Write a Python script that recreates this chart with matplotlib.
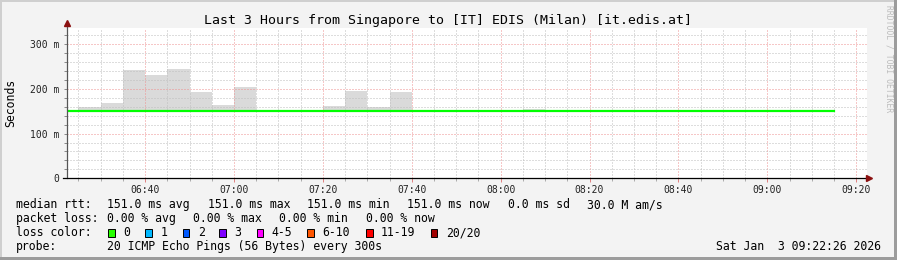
import datetime as dt
import matplotlib
matplotlib.use("Agg")
import matplotlib.pyplot as plt
import matplotlib.dates as mdates
from matplotlib.ticker import MultipleLocator, FuncFormatter
from matplotlib.lines import Line2D
from matplotlib.patches import Rectangle

# --- data (ms), 5 minute bins ---
bin_start = [dt.datetime(2026, 1, 3, 6, 20) + dt.timedelta(minutes=5 * i) for i in range(35)]
median_ms = [151.0] * 35
smoke_top = [151, 160, 168.5, 242.5, 231, 244.5, 193, 163.5, 204.5, 151, 151, 151,
             162, 196, 159.5, 194, 151, 151, 151, 151, 151, 155.5,
             151, 151, 151, 151, 151, 151, 151, 151, 151, 151, 151, 151, 151]
smoke_bottom = 150.0

title = "Last 3 Hours from Singapore to [IT] EDIS (Milan) [it.edis.at]"
rtt_items = ["151.0 ms avg", "151.0 ms max", "151.0 ms min", "151.0 ms now", "0.0 ms sd", "30.0 M am/s"]
loss_items = ["0.00 % avg", "0.00 % max", "0.00 % min", "0.00 % now"]
loss_labels = ["0", "1", "2", "3", "4-5", "6-10", "11-19", "20/20"]
loss_colors = ["#26ff00", "#00b8ff", "#0059ff", "#7e00ff", "#ff00ff", "#ff5500", "#ff0000", "#a10000"]
probe_text = "20 ICMP Echo Pings (56 Bytes) every 300s"
stamp = "Sat Jan  3 09:22:26 2026"

t_end = dt.datetime(2026, 1, 3, 9, 22, 26)
t_start = t_end - dt.timedelta(hours=3)

W, H = 897, 260
plt.rcParams["font.family"] = ["DejaVu Sans Mono"]
fig = plt.figure(figsize=(W / 100, H / 100), dpi=100, facecolor="#f3f3f3")


def px(x, y):
    return x / W, 1 - y / H


L, R, T, B = 67, 867, 27.7, 178.3
ax = fig.add_axes([L / W, 1 - B / H, (R - L) / W, (B - T) / H], facecolor="white")

# smoke
ax.bar(bin_start, [t - smoke_bottom for t in smoke_top], bottom=smoke_bottom,
       width=dt.timedelta(minutes=5), align="edge", color="#dadada", linewidth=0, zorder=1)
# median line
ax.step(bin_start + [bin_start[-1] + dt.timedelta(minutes=5)], median_ms + [median_ms[-1]],
        where="post", color="#00ff00", linewidth=1.6, zorder=4)

ax.set_xlim(t_start, t_end)
ax.set_ylim(0, 337)

ax.xaxis.set_major_locator(mdates.MinuteLocator(byminute=[0, 20, 40]))
ax.xaxis.set_minor_locator(mdates.MinuteLocator(byminute=range(0, 60, 5)))
ax.xaxis.set_major_formatter(mdates.DateFormatter("%H:%M"))
ax.yaxis.set_major_locator(MultipleLocator(100))
ax.yaxis.set_minor_locator(MultipleLocator(20))
ax.yaxis.set_major_formatter(FuncFormatter(lambda v, p: "0" if v == 0 else f"{int(v)} m"))

ax.set_axisbelow(False)
ax.grid(which="minor", color="#bdbdbd", linestyle=(0, (1, 2)), linewidth=0.72, zorder=2)
ax.grid(which="major", color="#ee9090", linestyle=(0, (1, 2)), linewidth=0.72, zorder=3)

for s in ax.spines.values():
    s.set_visible(False)
ax.tick_params(which="both", labelsize=7, colors="#222222", pad=3)
ax.tick_params(axis="x", which="major", length=3, color="#e08080", width=0.7, pad=1.5)
ax.tick_params(axis="x", which="minor", length=2, color="#aaaaaa", width=0.7)
ax.tick_params(axis="y", which="both", length=2.5, color="#888888", width=0.7)

# axis lines and arrows
fig.add_artist(Line2D([px(L, 0)[0]] * 2, [px(0, B)[1], px(0, 22)[1]], color="#555555", lw=0.9))
fig.add_artist(Line2D([px(63, 0)[0], px(868, 0)[0]], [px(0, B)[1]] * 2, color="black", lw=0.9))
fig.add_artist(Line2D([px(L, 0)[0]], [px(0, 23)[1]], marker="^", markersize=4.5, color="#8b1010", lw=0))
fig.add_artist(Line2D([px(869, 0)[0]], [px(0, B)[1]], marker=">", markersize=4.5, color="#8b1010", lw=0))

# title, y label, watermark
fig.text(*px(448, 24), title, ha="center", va="baseline", fontsize=9.5, color="black")
fig.text(*px(11, 103), "Seconds", rotation=90, ha="center", va="center", fontsize=8.3)
fig.text(*px(888.5, 5), "RRDTOOL / TOBI OETIKER", rotation=270, ha="center", va="top",
         fontsize=5.8, color="#bcbcbc")

# legend rows
fs = 8.3
rows = [208, 222, 236, 250]
fig.text(*px(16, rows[0]), "median rtt:", va="baseline", fontsize=fs)
for x, s in zip([107.3, 208, 307.3, 406.7, 508.3, 586.7], rtt_items):
    fig.text(*px(x, rows[0]), s, va="baseline", fontsize=fs)

fig.text(*px(16, rows[1]), "packet loss:", va="baseline", fontsize=fs)
for x, s in zip([107.3, 193.3, 279.3, 365.7], loss_items):
    fig.text(*px(x, rows[1]), s, va="baseline", fontsize=fs)

fig.text(*px(16, rows[2]), "loss color:", va="baseline", fontsize=fs)
box_x = [108.3, 145.3, 182.7, 219.3, 256.7, 307.3, 366, 430.7]
for x, lab, c in zip(box_x, loss_labels, loss_colors):
    fig.add_artist(Rectangle(px(x, 236.7), 6.7 / W, 7.4 / H, transform=fig.transFigure,
                             facecolor=c, edgecolor="black", linewidth=0.7))
    fig.text(*px(x + 15, rows[2]), lab, va="baseline", fontsize=fs)

fig.text(*px(16, rows[3]), "probe:", va="baseline", fontsize=fs)
fig.text(*px(107.3, rows[3]), probe_text, va="baseline", fontsize=fs)
fig.text(*px(880.5, rows[3]), stamp, ha="right", va="baseline", fontsize=fs)

# frame
fig.add_artist(Rectangle((0, 0), 2 / W, 1, transform=fig.transFigure, color="#cfcfcf", lw=0))
fig.add_artist(Rectangle((0, 1 - 2 / H), 1, 2 / H, transform=fig.transFigure, color="#cfcfcf", lw=0))
fig.add_artist(Rectangle((1 - 3 / W, 0), 3 / W, 1, transform=fig.transFigure, color="#9c9c9c", lw=0))
fig.add_artist(Rectangle((0, 0), 1, 3 / H, transform=fig.transFigure, color="#9c9c9c", lw=0))

fig.savefig("out.png", dpi=100, facecolor=fig.get_facecolor())
